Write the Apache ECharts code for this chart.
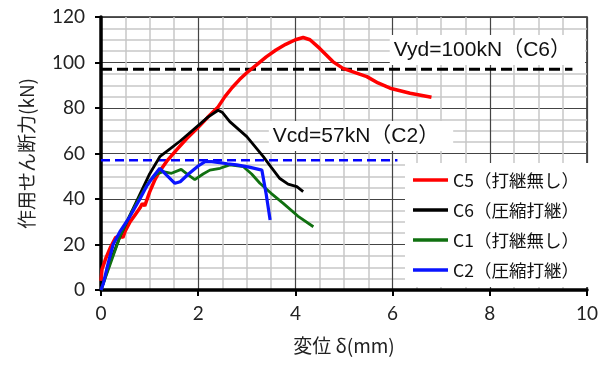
<!DOCTYPE html>
<html>
<head>
<meta charset="utf-8">
<script src="https://cdn.jsdelivr.net/npm/echarts@6/dist/echarts.min.js"></script>
<style>
  html, body { margin: 0; padding: 0; background: #fff; }
  #chart { width: 610px; height: 371px; }
</style>
</head>
<body>
<div id="chart"></div>
<script>
// 変位 δ(mm) - 作用せん断力(kN)
const c5 = [[0,4],[0.02,9],[0.1,14],[0.2,19],[0.3,23],[0.4,24],[0.45,23],[0.5,26],[0.6,30],[0.7,33],[0.8,36],[0.85,38],[0.9,37],[1.0,43],[1.1,48],[1.2,52],[1.35,56.5],[1.55,61.5],[1.76,66.5],[2.0,71.5],[2.2,76],[2.41,80.5],[2.55,85],[2.7,89],[2.85,92.5],[3.0,95.5],[3.2,99],[3.4,102.5],[3.6,105.5],[3.8,108],[4.0,110],[4.16,111],[4.3,110],[4.5,106.2],[4.77,100.4],[4.98,97.4],[5.2,95.8],[5.47,93.8],[5.7,91],[5.95,88.7],[6.36,86.5],[6.8,84.7]];
const c6 = [[0,0],[0.2,13],[0.4,24],[0.6,33],[0.8,42],[1.0,51],[1.21,58.6],[1.42,62],[1.63,65.5],[2.04,73],[2.2,76],[2.41,79],[2.5,78],[2.65,74],[3.0,67.4],[3.34,58.6],[3.5,54],[3.68,49],[3.85,46.5],[4.03,45.4],[4.16,43.2]];
const c1 = [[0,0],[0.2,12],[0.4,24],[0.6,33],[0.8,41],[1.0,48],[1.15,51],[1.28,52],[1.45,51.3],[1.65,53],[1.8,50.5],[1.93,48.5],[2.1,51],[2.24,52.7],[2.45,53.5],[2.65,55],[2.93,54.2],[3.1,51],[3.27,46.9],[3.5,42.5],[3.75,38.1],[4.05,32.5],[4.37,27.8]];
const c2 = [[0,0],[0.05,3],[0.15,12],[0.25,20],[0.4,26],[0.6,32.5],[0.8,40],[0.95,46],[1.08,50],[1.21,53.5],[1.35,50.5],[1.52,46.9],[1.63,47.6],[1.8,51],[2.0,54.5],[2.14,56.4],[2.28,56.4],[2.6,55.5],[2.79,55],[3.05,54],[3.31,52.7],[3.4,42],[3.48,30.8]];
const vyd = [[0,97],[9.7,97]];
const vcd = [[0,57],[6.1,57]];
const xTicks = [0,2,4,6,8,10];
const yTicks = [0,20,40,60,80,100,120];

const chart = echarts.init(document.getElementById('chart'));
const numFont = "Lato, 'Noto Sans CJK JP', sans-serif";
const jpFont = "'Noto Sans CJK JP', sans-serif";
const noteFont = "'Liberation Sans', 'Noto Sans CJK JP', sans-serif";

const curve = (name, data, color, width) => ({
  name, type: 'line', data, symbol: 'none', z: 5,
  lineStyle: { color, width }, itemStyle: { color }
});

const note = (text, coord) => ({
  symbol: 'rect', symbolSize: 0,
  data: [{ coord }],
  label: {
    show: true, formatter: text, position: 'inside',
    backgroundColor: '#fff', padding: [5, 14, 4, 4],
    fontSize: 21, color: '#111', fontFamily: noteFont
  }
});

const option = {
  animation: false,
  grid: { left: 101, right: 23, top: 17, bottom: 81, show: true, borderColor: '#222', borderWidth: 1.5 },
  xAxis: {
    type: 'value', min: xTicks[0], max: xTicks[xTicks.length - 1], interval: 2,
    name: '変位 δ(mm)', nameLocation: 'middle', nameGap: 46,
    nameTextStyle: { fontSize: 19, color: '#222', fontFamily: jpFont },
    axisLine: { lineStyle: { color: '#000', width: 3.5 } },
    axisTick: { show: true, length: 6, lineStyle: { color: '#000', width: 2 } },
    axisLabel: { fontSize: 19, color: '#222', margin: 14, fontFamily: numFont },
    splitLine: { show: true, lineStyle: { color: '#444', width: 1.2 } },
    minorTick: { show: false, splitNumber: 4 },
    minorSplitLine: { show: true, lineStyle: { color: '#c8c8c8', width: 1.5 } }
  },
  yAxis: {
    type: 'value', min: yTicks[0], max: yTicks[yTicks.length - 1], interval: 20,
    name: '作用せん断力(kN)', nameLocation: 'middle', nameGap: 65,
    nameTextStyle: { fontSize: 19, color: '#222', fontFamily: jpFont },
    axisLine: { show: true, lineStyle: { color: '#000', width: 3.5 } },
    axisTick: { show: true, length: 6, lineStyle: { color: '#000', width: 2 } },
    axisLabel: { fontSize: 19, color: '#222', margin: 16, fontFamily: numFont },
    splitLine: { show: true, lineStyle: { color: '#444', width: 1.2 } },
    minorTick: { show: false, splitNumber: 4 },
    minorSplitLine: { show: true, lineStyle: { color: '#c8c8c8', width: 1.5 } }
  },
  legend: {
    orient: 'vertical', left: 405, top: 163,
    backgroundColor: '#fff', padding: [8, 16, 8, 8],
    icon: 'rect', itemWidth: 35, itemHeight: 3.5, itemGap: 12,
    textStyle: { fontSize: 17.5, color: '#111', fontFamily: jpFont, lineHeight: 18 },
    data: ['C5（打継無し）', 'C6（圧縮打継）', 'C1（打継無し）', 'C2（圧縮打継）']
  },
  series: [
    {
      type: 'line', data: vyd, symbol: 'none', z: 3,
      lineStyle: { color: '#000', width: 3, type: [11, 5] },
      markPoint: note('Vyd=100kN（C6）', [7.95, 105.5])
    },
    {
      type: 'line', data: vcd, symbol: 'none', z: 3,
      lineStyle: { color: '#0000ff', width: 2.5, type: [9, 5] },
      markPoint: note('Vcd=57kN（C2）', [5.35, 67.7])
    },
    curve('C5（打継無し）', c5, '#ff0000', 3.5),
    curve('C6（圧縮打継）', c6, '#000000', 2.8),
    curve('C1（打継無し）', c1, '#107010', 2.8),
    curve('C2（圧縮打継）', c2, '#0a14ff', 3.2)
  ]
};

chart.setOption(option);
</script>
</body>
</html>
